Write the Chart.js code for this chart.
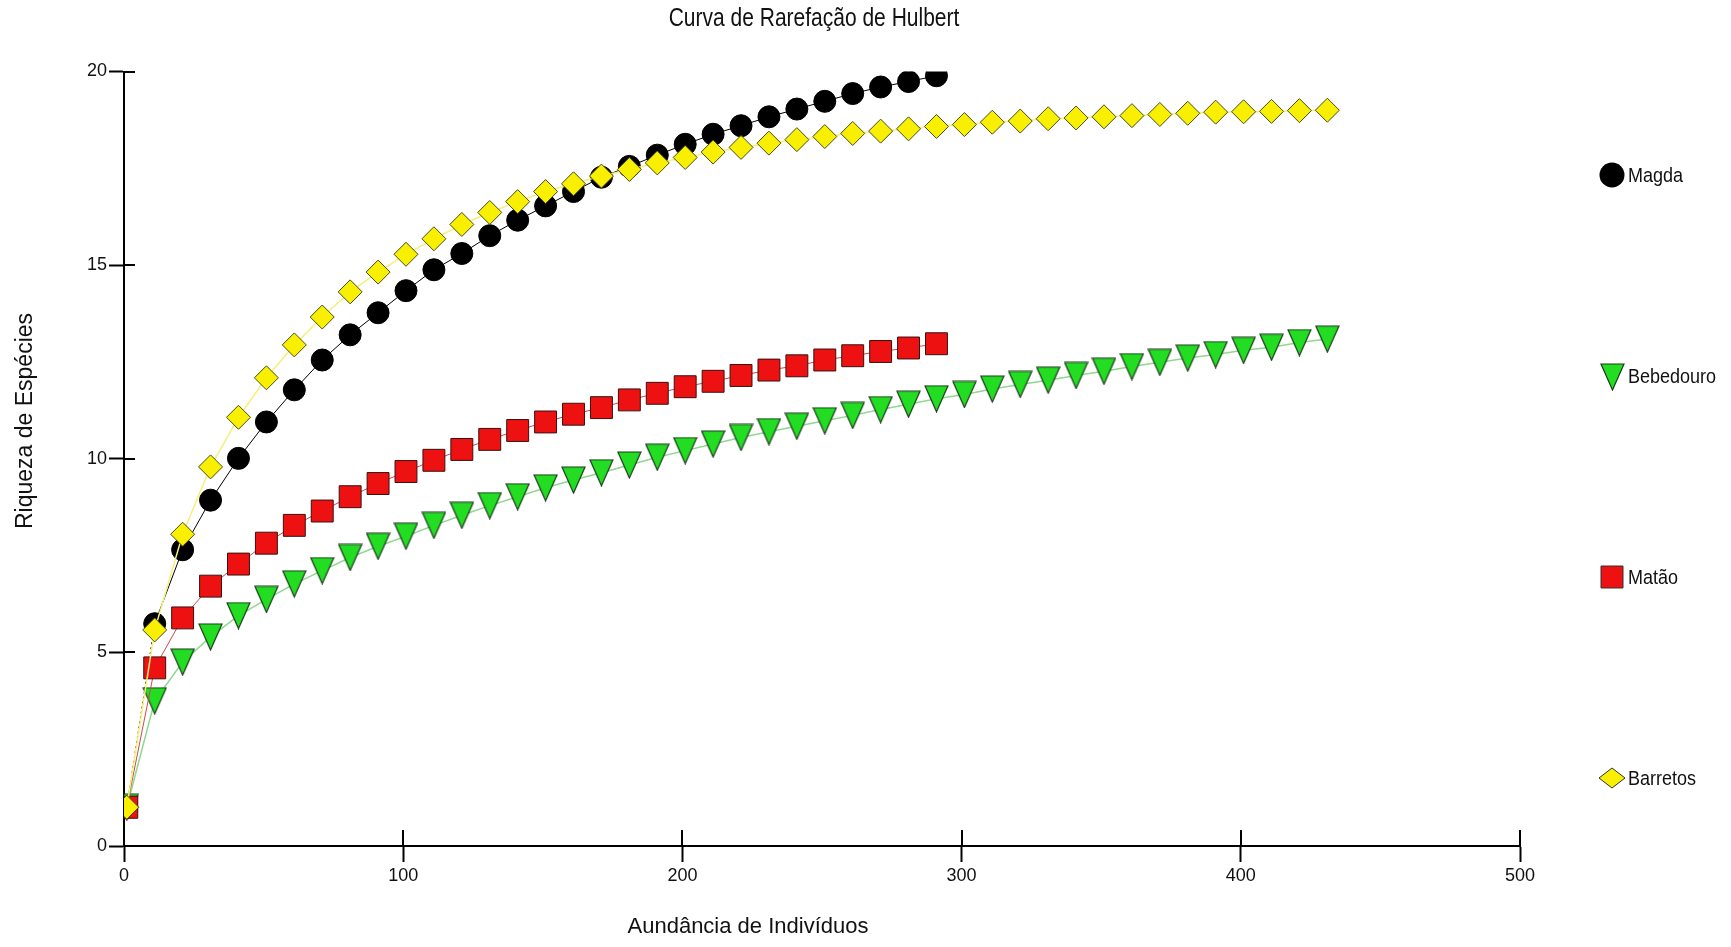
<!DOCTYPE html>
<html><head><meta charset="utf-8">
<script src="https://cdn.jsdelivr.net/npm/chart.js@4.4.1/dist/chart.umd.min.js"></script>
<style>html,body{margin:0;padding:0;background:#fff;overflow:hidden}#wrap{width:1731px;height:947px;position:relative}</style>
</head><body><div id="wrap"><canvas id="c" width="1731" height="947"></canvas></div>
<script>
const chartTitle = 'Curva de Rarefação de Hulbert';
const xTitle = 'Aundância de Indivíduos';
const yTitle = 'Riqueza de Espécies';
const seriesNames = ['Magda', 'Bebedouro', 'Matão', 'Barretos'];
const xTickValues = [0, 100, 200, 300, 400, 500];
const yTickValues = [0, 5, 10, 15, 20];

const abundanceShort = [1, 11, 21, 31, 41, 51, 61, 71, 81, 91, 101, 111, 121, 131, 141, 151, 161, 171, 181, 191, 201, 211, 221, 231, 241, 251, 261, 271, 281, 291];
const abundanceLong = [1, 11, 21, 31, 41, 51, 61, 71, 81, 91, 101, 111, 121, 131, 141, 151, 161, 171, 181, 191, 201, 211, 221, 231, 241, 251, 261, 271, 281, 291, 301, 311, 321, 331, 341, 351, 361, 371, 381, 391, 401, 411, 421, 431];

const magda = [1.0, 5.74, 7.65, 8.93, 10.01, 10.95, 11.78, 12.55, 13.2, 13.77, 14.34, 14.88, 15.3, 15.76, 16.16, 16.53, 16.9, 17.27, 17.55, 17.84, 18.12, 18.38, 18.6, 18.83, 19.03, 19.23, 19.43, 19.6, 19.74, 19.89];
const matao = [1.0, 4.6, 5.89, 6.71, 7.28, 7.82, 8.28, 8.65, 9.02, 9.36, 9.67, 9.96, 10.24, 10.5, 10.73, 10.95, 11.15, 11.32, 11.52, 11.69, 11.86, 12.0, 12.15, 12.29, 12.4, 12.55, 12.66, 12.77, 12.86, 12.97];
const bebedouro = [1.0, 3.75, 4.75, 5.4, 5.95, 6.37, 6.77, 7.11, 7.45, 7.74, 8.0, 8.28, 8.54, 8.79, 9.02, 9.25, 9.45, 9.64, 9.84, 10.04, 10.21, 10.38, 10.55, 10.7, 10.84, 10.98, 11.12, 11.27, 11.41, 11.55, 11.66, 11.8, 11.92, 12.03, 12.15, 12.26, 12.38, 12.49, 12.6, 12.69, 12.8, 12.88, 13.0, 13.09];
const barretos = [1.0, 5.58, 8.05, 9.79, 11.07, 12.09, 12.94, 13.66, 14.31, 14.82, 15.28, 15.68, 16.05, 16.36, 16.64, 16.9, 17.1, 17.3, 17.47, 17.64, 17.78, 17.92, 18.04, 18.15, 18.24, 18.32, 18.4, 18.46, 18.52, 18.58, 18.63, 18.69, 18.72, 18.78, 18.8, 18.83, 18.86, 18.89, 18.92, 18.95, 18.96, 18.97, 18.99, 19.0];

const colBlack = '#000000';
const colGreen = '#22dd22';
const colRed = '#ee1111';
const colYellow = '#f8f000';
const sans = "'Liberation Sans', Arial, sans-serif";

function pairs(xs, ys) { return ys.map((v, i) => ({x: xs[i], y: v})); }

function makeTriangle(w, h, fill) {
  const c = document.createElement('canvas');
  c.width = w + 2; c.height = h + 2;
  const g = c.getContext('2d');
  g.beginPath(); g.moveTo(1, 1); g.lineTo(w + 1, 1); g.lineTo(w / 2 + 1, h + 1); g.closePath();
  g.fillStyle = fill; g.fill();
  g.strokeStyle = '#1b3b1b'; g.lineWidth = 1.2; g.stroke();
  return c;
}
const triPoint = makeTriangle(23, 26, colGreen);

const innerTicks = {
  id: 'innerTicks',
  beforeDatasetsDraw(chart) {
    const {ctx, chartArea: a, scales: {x, y}} = chart;
    ctx.save();
    ctx.strokeStyle = '#000'; ctx.lineWidth = 2;
    xTickValues.forEach(v => {
      const px = Math.round(x.getPixelForValue(v));
      ctx.beginPath(); ctx.moveTo(px, a.bottom); ctx.lineTo(px, a.bottom - 16); ctx.stroke();
    });
    yTickValues.forEach(v => {
      const py = Math.round(y.getPixelForValue(v));
      ctx.beginPath(); ctx.moveTo(a.left, py); ctx.lineTo(a.left + 11, py); ctx.stroke();
    });
    ctx.restore();
  }
};

function tallText(ctx, text, x, y, stretch) {
  ctx.save();
  ctx.translate(x, y);
  ctx.scale(1, stretch);
  ctx.fillText(text, 0, 0);
  ctx.restore();
}

const chartTexts = {
  id: 'chartTexts',
  afterDraw(chart) {
    const ctx = chart.ctx;
    ctx.save();
    ctx.fillStyle = '#111';
    ctx.textAlign = 'center'; ctx.textBaseline = 'middle';
    ctx.font = "21px " + sans;
    tallText(ctx, chartTitle, 814, 19, 1.2);
    ctx.font = "22px " + sans;
    ctx.fillText(xTitle, 748, 927);
    ctx.translate(26, 421);
    ctx.rotate(-Math.PI / 2);
    ctx.font = "23px " + sans;
    ctx.fillText(yTitle, 0, 0);
    ctx.restore();
  }
};

const sideLegend = {
  id: 'sideLegend',
  afterDraw(chart) {
    const ctx = chart.ctx;
    const mx = 1612, tx = 1628;
    const ys = [175, 376, 577, 778];
    ctx.save();
    ctx.font = "18px " + sans;
    ctx.textBaseline = 'middle'; ctx.textAlign = 'left';
    seriesNames.forEach((name, i) => {
      const yy = ys[i];
      ctx.beginPath();
      if (i === 0) {
        ctx.arc(mx, yy, 12.5, 0, Math.PI * 2);
        ctx.fillStyle = colBlack; ctx.fill();
      } else if (i === 1) {
        ctx.drawImage(triPoint, mx - 12, yy - 13);
      } else if (i === 2) {
        ctx.rect(mx - 11, yy - 11, 22, 22);
        ctx.fillStyle = colRed; ctx.fill(); ctx.strokeStyle = '#333'; ctx.lineWidth = 1; ctx.stroke();
      } else {
        ctx.moveTo(mx - 13, yy); ctx.lineTo(mx, yy - 10); ctx.lineTo(mx + 13, yy); ctx.lineTo(mx, yy + 10); ctx.closePath();
        ctx.fillStyle = colYellow; ctx.fill(); ctx.strokeStyle = '#333'; ctx.lineWidth = 1; ctx.stroke();
      }
      ctx.fillStyle = '#111';
      tallText(ctx, name, tx, yy + 1, 1.15);
    });
    ctx.restore();
  }
};

new Chart(document.getElementById('c'), {
  type: 'line',
  data: {
    datasets: [
      {
        label: seriesNames[0], data: pairs(abundanceShort, magda), order: 3,
        borderColor: colBlack, borderWidth: 1, pointStyle: 'circle', pointRadius: 11,
        pointBackgroundColor: colBlack, pointBorderColor: colBlack, pointBorderWidth: 1,
        segment: { borderDash: c => c.p0DataIndex === 0 ? [2, 3] : undefined }
      },
      {
        label: seriesNames[1], data: pairs(abundanceLong, bebedouro), order: 2,
        borderColor: '#8fd88f', borderWidth: 1.5, pointStyle: triPoint, pointRadius: 11
      },
      {
        label: seriesNames[2], data: pairs(abundanceShort, matao), order: 1,
        borderColor: '#c84a4a', borderWidth: 1, pointStyle: 'rect', pointRadius: 15.5,
        pointBackgroundColor: colRed, pointBorderColor: '#3a1010', pointBorderWidth: 1
      },
      {
        label: seriesNames[3], data: pairs(abundanceLong, barretos), order: 0,
        borderColor: '#f4f07a', borderWidth: 1.5, pointStyle: 'rectRot', pointRadius: 12,
        pointBackgroundColor: colYellow, pointBorderColor: '#4a4a20', pointBorderWidth: 1
      }
    ]
  },
  options: {
    responsive: false, animation: false, devicePixelRatio: 1, events: [],
    layout: { padding: { left: 0, right: 211, top: 71.5, bottom: 0 } },
    plugins: {
      legend: { display: false },
      tooltip: { enabled: false },
      title: { display: false }
    },
    scales: {
      x: {
        type: 'linear', position: 'bottom', min: 0, max: 500,
        ticks: { stepSize: 100, color: '#111', font: { family: sans, size: 18 }, padding: 3 },
        grid: { drawOnChartArea: false, drawTicks: true, tickLength: 16, tickColor: '#000', tickWidth: 2 },
        border: { display: true, color: '#000', width: 2 },
        title: { display: false },
        afterFit(s) { s.height = 101; }
      },
      y: {
        type: 'linear', position: 'left', min: 0, max: 20,
        ticks: { stepSize: 5, color: '#111', font: { family: sans, size: 18 }, padding: 2 },
        grid: { drawOnChartArea: false, drawTicks: true, tickLength: 15, tickColor: '#000', tickWidth: 2 },
        border: { display: true, color: '#000', width: 2 },
        title: { display: false },
        afterFit(s) { s.width = 124; }
      }
    }
  },
  plugins: [innerTicks, chartTexts, sideLegend]
});
</script>
</body></html>
